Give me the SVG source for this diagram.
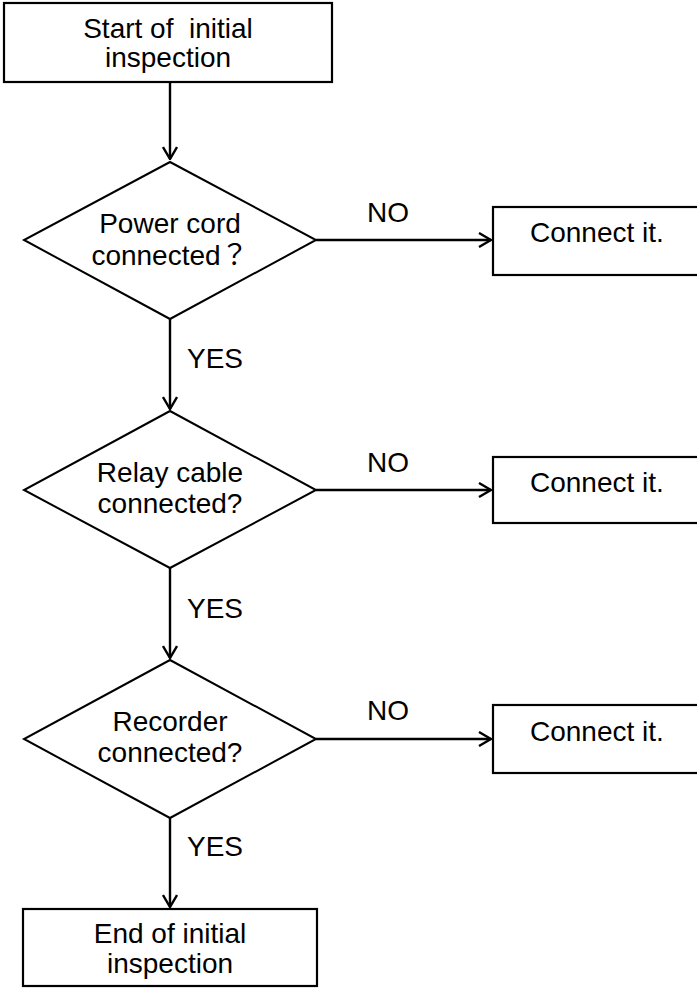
<svg xmlns="http://www.w3.org/2000/svg" width="697" height="989" viewBox="0 0 697 989">
<style>
  text { font-family: "Liberation Sans", Arial, "Noto Sans CJK JP", sans-serif; font-size: 28px; fill: #000; }
  .c { text-anchor: middle; }
  .box { fill: #fff; stroke: #000; stroke-width: 2.2; }
  .dia { fill: #fff; stroke: #000; stroke-width: 2; }
  .conn { fill: none; stroke: #000; stroke-width: 2.4; marker-end: url(#arr); }
</style>
<defs>
  <marker id="arr" markerUnits="userSpaceOnUse" viewBox="0 0 14 16" refX="13" refY="8" markerWidth="14" markerHeight="16" orient="auto">
    <path d="M1,1 L13,8 L1,15" fill="none" stroke="#000" stroke-width="2.4"/>
  </marker>
</defs>
<rect width="697" height="989" fill="#fff"/>

<g id="connectors">
  <line class="conn" x1="170" y1="82" x2="170" y2="159"/>
  <line class="conn" x1="316" y1="240" x2="491" y2="240"/>
  <line class="conn" x1="170" y1="319" x2="170" y2="409"/>
  <line class="conn" x1="316" y1="490" x2="491" y2="490"/>
  <line class="conn" x1="170" y1="568" x2="170" y2="658"/>
  <line class="conn" x1="316" y1="739" x2="491" y2="739"/>
  <line class="conn" x1="170" y1="818" x2="170" y2="907"/>
  <text x="367" y="222">NO</text>
  <text x="367" y="472">NO</text>
  <text x="367" y="720">NO</text>
  <text x="187" y="368">YES</text>
  <text x="187" y="618">YES</text>
  <text x="187" y="856">YES</text>
</g>

<g id="start">
  <rect class="box" x="4" y="3" width="328" height="79"/>
  <text class="c" x="168" y="38" xml:space="preserve">Start of  initial</text>
  <text class="c" x="168" y="67">inspection</text>
</g>

<g id="q1">
  <polygon class="dia" points="170,162 316,240 170,319 24,240"/>
  <text class="c" x="170" y="233">Power cord</text>
  <text class="c" x="170" y="265">connected？</text>
</g>
<g id="fix1">
  <rect class="box" x="493" y="207" width="220" height="68"/>
  <text x="530" y="242">Connect it.</text>
</g>

<g id="q2">
  <polygon class="dia" points="170,411 316,490 170,568 24,490"/>
  <text class="c" x="170" y="482">Relay cable</text>
  <text class="c" x="170" y="513">connected?</text>
</g>
<g id="fix2">
  <rect class="box" x="493" y="457" width="220" height="66"/>
  <text x="530" y="492">Connect it.</text>
</g>

<g id="q3">
  <polygon class="dia" points="170,660 316,739 170,818 24,739"/>
  <text class="c" x="170" y="731">Recorder</text>
  <text class="c" x="170" y="762">connected?</text>
</g>
<g id="fix3">
  <rect class="box" x="493" y="705" width="220" height="68"/>
  <text x="530" y="741">Connect it.</text>
</g>

<g id="end">
  <rect class="box" x="23" y="909" width="294" height="77"/>
  <text class="c" x="170" y="943">End of initial</text>
  <text class="c" x="170" y="973">inspection</text>
</g>
</svg>
